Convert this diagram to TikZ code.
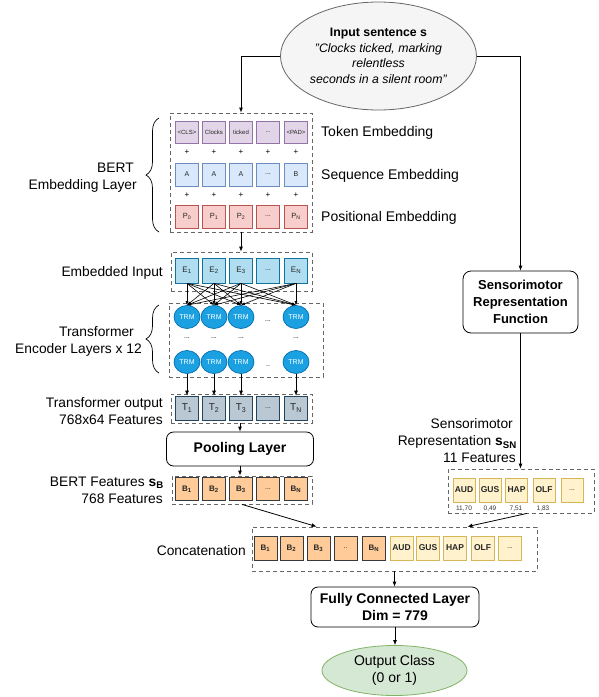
\documentclass[tikz,border=0pt]{standalone}
\usepackage{fontspec}
\setmainfont{Liberation Sans}
\usetikzlibrary{arrows.meta,decorations.pathreplacing,shapes.geometric,calc}
\definecolor{purF}{HTML}{E1D5E7}\definecolor{purD}{HTML}{9673A6}
\definecolor{bluF}{HTML}{DAE8FC}\definecolor{bluD}{HTML}{6C8EBF}
\definecolor{redF}{HTML}{F8CECC}\definecolor{redD}{HTML}{B85450}
\definecolor{eF}{HTML}{B1DDF0}\definecolor{eD}{HTML}{10739E}
\definecolor{trmF}{HTML}{1BA1E2}\definecolor{trmD}{HTML}{006EAF}
\definecolor{tF}{HTML}{BAC8D3}\definecolor{tD}{HTML}{23445D}
\definecolor{bF}{HTML}{FFCC99}\definecolor{bD}{HTML}{36393D}
\definecolor{yF}{HTML}{FFF2CC}\definecolor{yD}{HTML}{D6B656}
\definecolor{gryF}{HTML}{F5F5F5}\definecolor{gryD}{HTML}{666666}
\definecolor{grnF}{HTML}{D5E8D4}\definecolor{grnD}{HTML}{82B366}
\newcommand\mydts{...}
\begin{document}
\begin{tikzpicture}[x=1pt,y=-1pt,
  cell/.style={draw, line width=0.7pt, minimum width=23pt, minimum height=23pt, inner sep=0pt, text=black!85},
  frame/.style={draw=gryD, dash pattern=on 4pt off 3pt, line width=0.8pt, inner sep=0pt},
  arr/.style={-{Latex[length=5pt,width=4pt]}, line width=0.8pt},
  sarr/.style={-{Latex[length=4pt,width=3pt]}, line width=0.6pt},
  lbl/.style={font=\fontsize{13.8}{17}\selectfont, inner sep=0pt},
  rbox/.style={draw, rounded corners=7pt, line width=0.8pt, inner sep=0pt},
  trm/.style={ellipse, fill=trmF, draw=trmD, line width=0.7pt, minimum width=26pt, minimum height=23pt, inner sep=0pt, text=white, font=\fontsize{7}{8}\selectfont},
  dotlbl/.style={inner sep=0pt, font=\fontsize{7}{8}\selectfont},
  brc/.style={line width=0.7pt, decorate, decoration={brace, amplitude=13pt}}
]
\fill[white] (0,0) rectangle (599,697);
\useasboundingbox (0,0) rectangle (599,697);

% input sentence
\node[ellipse, fill=gryF, draw=gryD, line width=0.8pt, minimum width=196pt, minimum height=108pt] (inp) at (378.5,56) {};
\node[align=center, inner sep=0pt, font=\fontsize{12.3}{15.5}\selectfont] (inpT) at (378.5,56)
  {\textbf{Input sentence s}\\\textit{"Clocks ticked, marking}\\\textit{relentless}\\\textit{seconds in a silent room"}};

% BERT embedding layer
\foreach \i/\x/\t in {1/187/{<CLS>},2/214/Clocks,3/241/ticked,4/268/\mydts,5/296/{<PAD>}}
  \node[cell, fill=purF, draw=purD, minimum height=22pt, font=\fontsize{6}{7}\selectfont] (tok\i) at (\x,132) {\t};
\foreach \i/\x in {1/187,2/214,3/241,4/268,5/296} {
  \node[inner sep=0pt, font=\fontsize{8}{8}\selectfont] (plA\i) at (\x,152.5) {+};
  \node[inner sep=0pt, font=\fontsize{8}{8}\selectfont] (plB\i) at (\x,195.5) {+};
}
\foreach \i/\x/\t in {1/187/A,2/214/A,3/241/A,4/268/\mydts,5/296/B}
  \node[cell, fill=bluF, draw=bluD, font=\fontsize{7}{8}\selectfont] (seq\i) at (\x,174.5) {\t};
\foreach \i/\x/\t in {1/187/0,2/214/1,3/241/2,5/296/N}
  \node[cell, fill=redF, draw=redD, font=\fontsize{7.5}{8}\selectfont] (pos\i) at (\x,216.5) {P\textsubscript{\t}};
\node[cell, fill=redF, draw=redD, font=\fontsize{7}{8}\selectfont] (pos4) at (268,216.5) {\mydts};
\node[frame, minimum width=142pt, minimum height=119pt] (embF) at (241,172.5) {};

\node[lbl, font=\fontsize{14}{17}\selectfont, anchor=west] (lTok) at (321,133) {Token Embedding};
\node[lbl, font=\fontsize{14}{17}\selectfont, anchor=west] (lSeq) at (321,176) {Sequence Embedding};
\node[lbl, font=\fontsize{14}{17}\selectfont, anchor=west] (lPos) at (321,218) {Positional Embedding};
\node[lbl, anchor=east, align=right] (lBert) at (137,178) {BERT\hspace*{3pt}\\Embedding Layer};
\draw[brc] (159,232) -- (159,118);

% embedded input
\foreach \i/\x/\t in {1/187/1,2/214/2,3/241/3,5/296/N}
  \node[cell, fill=eF, draw=eD, minimum height=25pt, font=\fontsize{8}{9}\selectfont] (e\i) at (\x,270.5) {E\textsubscript{\t}};
\node[cell, fill=eF, draw=eD, minimum height=25pt, font=\fontsize{7}{8}\selectfont] (e4) at (268,270.5) {\mydts};
\node[frame, minimum width=141pt, minimum height=39pt] (eF) at (241.5,271.5) {};
\node[lbl, anchor=east] (lEmb) at (163,273) {Embedded Input};

% transformer layers
\foreach \i/\x in {1/187,2/214,3/241,5/296} {
  \node[trm] (ta\i) at (\x,317) {TRM};
  \node[trm] (tb\i) at (\x,362) {TRM};
  \node[dotlbl] (td\i) at (\x,338) {\mydts};
}
\node[dotlbl] (tdotA) at (268,321) {\mydts};
\node[dotlbl] (tdotB) at (268,366) {..};
\node[frame, minimum width=154pt, minimum height=74pt] (trF) at (246,340) {};
\foreach \i in {1,2,3,5}
  \foreach \j in {1,2,3,5}
    \draw[sarr] (e\i.south) -- (ta\j.north);
\node[lbl, anchor=east, align=right] (lTrE) at (142,341) {Transformer\hspace*{8pt}\\Encoder Layers x 12};
\draw[brc] (159,373) -- (159,305);

% transformer output
\foreach \i/\x/\t in {1/187/1,2/214/2,3/241/3,5/296/N}
  \node[cell, fill=tF, draw=tD, minimum height=24pt, font=\fontsize{10}{11}\selectfont] (t\i) at (\x,408) {T\textsubscript{\t}};
\node[cell, fill=tF, draw=tD, minimum height=24pt, font=\fontsize{7}{8}\selectfont] (t4) at (268,408) {\mydts};
\node[frame, minimum width=141pt, minimum height=29pt] (tFr) at (241.5,408.5) {};
\foreach \i in {1,2,3,5}
  \draw[arr] (tb\i.south) -- (t\i.north);
\node[lbl, anchor=east, align=right] (lTo) at (163,411.5) {Transformer output\\768x64 Features};

% pooling
\node[rbox, minimum width=147pt, minimum height=34pt, font=\bfseries\fontsize{14}{17}\selectfont] (pool) at (240,449) {Pooling Layer};
\draw[arr] (tFr.south -| pool.north) -- (pool.north);

% BERT features
\foreach \i/\x/\t in {1/187/1,2/214/2,3/241/3,5/296/N}
  \node[cell, fill=bF, draw=bD, font=\bfseries\fontsize{8}{9}\selectfont] (b\i) at (\x,489) {B\textsubscript{\t}};
\node[cell, fill=bF, draw=bD, font=\fontsize{7}{8}\selectfont] (b4) at (268,489) {\mydts};
\node[frame, minimum width=140pt, minimum height=28pt] (bFr) at (242,490) {};
\draw[arr] (pool.south) -- (pool.south |- bFr.north);
\node[lbl, anchor=east, align=right] (lBf) at (164,490) {BERT Features \textbf{s}\textsubscript{\textbf{B}}\\768 Features\hspace*{1pt}};

% sensorimotor function
\node[rbox, rounded corners=8pt, minimum width=115pt, minimum height=62pt, align=center, font=\bfseries\fontsize{13}{17}\selectfont] (sfun) at (520.5,302) {Sensorimotor\\Representation\\Function};
\draw[arr] (inp.west) -| (embF.north);
\draw[arr] (embF.south) -- (embF.south |- eF.north);
\draw[arr] (inp.east) -| (sfun.north);

% sensorimotor representation
\foreach \i/\x/\t in {1/464/AUD,2/490/GUS,3/516.5/HAP,4/544/OLF}
  \node[cell, fill=yF, draw=yD, minimum width=22pt, minimum height=24pt, font=\bfseries\fontsize{8.5}{9}\selectfont] (s\i) at (\x,490) {\t};
\node[cell, fill=yF, draw=yD, minimum width=22pt, minimum height=24pt, font=\fontsize{7}{8}\selectfont] (s5) at (572,490) {\mydts};
\foreach \i/\x/\t in {1/464/{11,70},2/490/{0,49},3/516/{7,51},4/543/{1,83}}
  \node[inner sep=0pt, font=\fontsize{6.5}{7}\selectfont, text=black!80] (v\i) at (\x,508.5) {\t};
\node[frame, minimum width=146pt, minimum height=44pt] (sFr) at (521,491) {};
\draw[arr] (sfun.south) -- (sfun.south |- sFr.north);
\node[lbl, anchor=east, align=right] (lSn) at (517,441) {Sensorimotor\hspace*{4pt}\\Representation \textbf{s}\textsubscript{\textbf{SN}}\\11 Features\hspace*{1pt}};

% concatenation
\foreach \i/\x/\t in {1/265.5/1,2/291.5/2,3/318.5/3,5/374/N}
  \node[cell, fill=bF, draw=bD, minimum height=24pt, font=\bfseries\fontsize{8}{9}\selectfont] (cb\i) at (\x,548) {B\textsubscript{\t}};
\node[cell, fill=bF, draw=bD, minimum height=24pt, font=\fontsize{7}{8}\selectfont] (cb4) at (345.5,548) {..};
\foreach \i/\x/\t in {1/401.5/AUD,2/428/GUS,3/455/HAP,4/482.5/OLF}
  \node[cell, fill=yF, draw=yD, minimum height=24pt, font=\bfseries\fontsize{8.5}{9}\selectfont] (cs\i) at (\x,548) {\t};
\node[cell, fill=yF, draw=yD, minimum height=24pt, font=\fontsize{7}{8}\selectfont] (cs5) at (510,548) {\mydts};
\node[frame, minimum width=285pt, minimum height=44pt] (cFr) at (394.5,549) {};
\node[lbl, anchor=east] (lCon) at (246,551) {Concatenation};
\coordinate (cinL) at ($(cFr.north west)+(65,0)$);
\coordinate (cinR) at ($(cFr.north east)+(-70,0)$);
\draw[arr] (bFr.south) -- (cinL);
\draw[arr] ($(sFr.south)+(6,0)$) -- (cinR);

% fully connected + output
\node[rbox, minimum width=168pt, minimum height=40pt, align=center, font=\bfseries\fontsize{14}{17}\selectfont] (fc) at (395,607) {Fully Connected Layer\\Dim = 779};
\draw[arr] (cFr.south) -- (cFr.south |- fc.north);
\node[ellipse, fill=grnF, draw=grnD, line width=0.8pt, minimum width=145pt, minimum height=50pt] (out) at (394.5,670.5) {};
\node[align=center, inner sep=0pt, font=\fontsize{14}{17}\selectfont] (outT) at (394.5,670.5) {Output Class\\(0 or 1)};
\draw[arr] (fc.south) -- (fc.south |- out.north);
\end{tikzpicture}
\end{document}
